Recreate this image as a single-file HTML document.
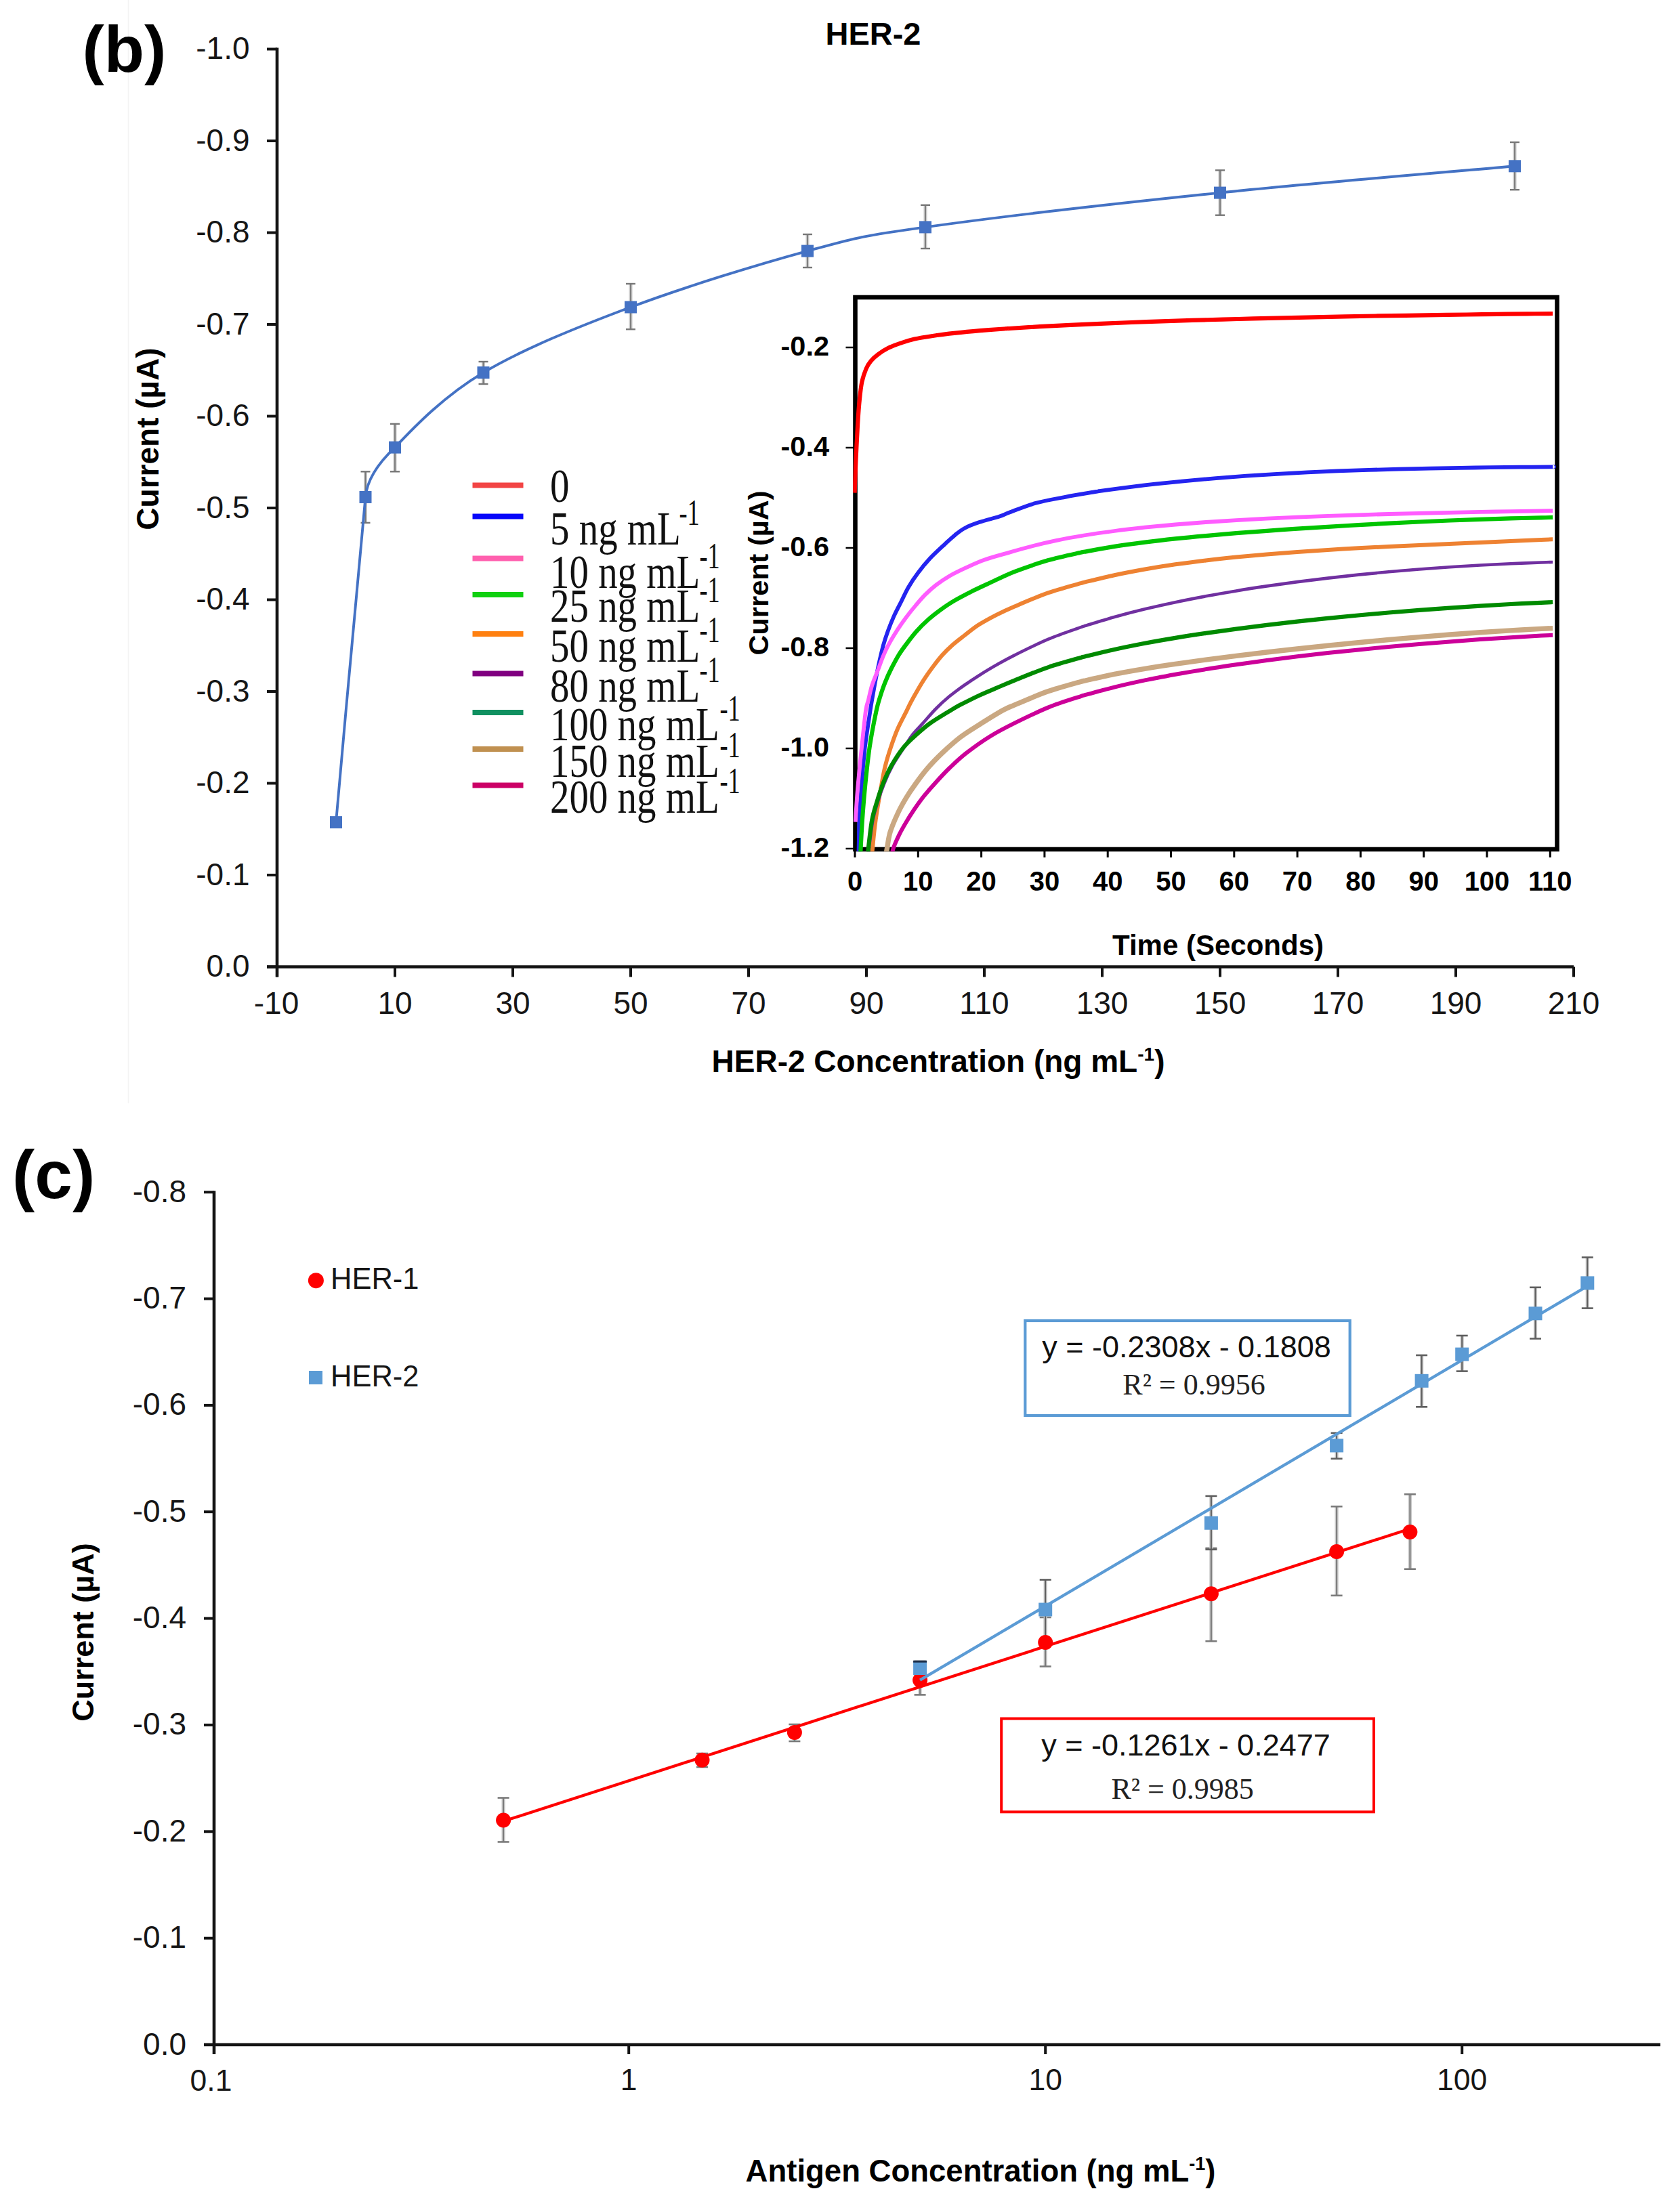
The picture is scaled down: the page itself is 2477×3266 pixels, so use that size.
<!DOCTYPE html>
<html lang="en"><head><meta charset="utf-8"><title>HER-2 calibration</title>
<style>html,body{margin:0;padding:0;background:#fff}svg{display:block}text{white-space:pre}</style></head><body>
<svg width="2477" height="3266" viewBox="0 0 2477 3266">
<rect x="0" y="0" width="2477" height="3266" fill="#ffffff"/>
<line x1="189.5" y1="0" x2="189.5" y2="1629" stroke="#f3f3f3" stroke-width="1.5"/>
<text x="121.5" y="105.5" font-size="97" font-family='"Liberation Sans", Arial, Helvetica, sans-serif' font-weight="bold" text-anchor="start" fill="#000">(b)</text>
<text x="1289" y="65.5" font-size="47" font-family='"Liberation Sans", Arial, Helvetica, sans-serif' font-weight="bold" text-anchor="middle" fill="#000">HER-2</text>
<line x1="409" y1="70.5" x2="409" y2="1442.5" stroke="#141414" stroke-width="4.6" stroke-linecap="butt"/>
<line x1="394" y1="1427.5" x2="2323" y2="1427.5" stroke="#141414" stroke-width="4.6" stroke-linecap="butt"/>
<line x1="394" y1="1427.5" x2="409" y2="1427.5" stroke="#141414" stroke-width="4" stroke-linecap="butt"/>
<text x="368.5" y="1442" font-size="46" font-family='"Liberation Sans", Arial, Helvetica, sans-serif' font-weight="normal" text-anchor="end" fill="#161616">0.0</text>
<line x1="394" y1="1292" x2="409" y2="1292" stroke="#141414" stroke-width="4" stroke-linecap="butt"/>
<text x="368.5" y="1306.5" font-size="46" font-family='"Liberation Sans", Arial, Helvetica, sans-serif' font-weight="normal" text-anchor="end" fill="#161616">-0.1</text>
<line x1="394" y1="1156.5" x2="409" y2="1156.5" stroke="#141414" stroke-width="4" stroke-linecap="butt"/>
<text x="368.5" y="1171" font-size="46" font-family='"Liberation Sans", Arial, Helvetica, sans-serif' font-weight="normal" text-anchor="end" fill="#161616">-0.2</text>
<line x1="394" y1="1021" x2="409" y2="1021" stroke="#141414" stroke-width="4" stroke-linecap="butt"/>
<text x="368.5" y="1035.5" font-size="46" font-family='"Liberation Sans", Arial, Helvetica, sans-serif' font-weight="normal" text-anchor="end" fill="#161616">-0.3</text>
<line x1="394" y1="885.5" x2="409" y2="885.5" stroke="#141414" stroke-width="4" stroke-linecap="butt"/>
<text x="368.5" y="900" font-size="46" font-family='"Liberation Sans", Arial, Helvetica, sans-serif' font-weight="normal" text-anchor="end" fill="#161616">-0.4</text>
<line x1="394" y1="750" x2="409" y2="750" stroke="#141414" stroke-width="4" stroke-linecap="butt"/>
<text x="368.5" y="764.5" font-size="46" font-family='"Liberation Sans", Arial, Helvetica, sans-serif' font-weight="normal" text-anchor="end" fill="#161616">-0.5</text>
<line x1="394" y1="614.5" x2="409" y2="614.5" stroke="#141414" stroke-width="4" stroke-linecap="butt"/>
<text x="368.5" y="629" font-size="46" font-family='"Liberation Sans", Arial, Helvetica, sans-serif' font-weight="normal" text-anchor="end" fill="#161616">-0.6</text>
<line x1="394" y1="479" x2="409" y2="479" stroke="#141414" stroke-width="4" stroke-linecap="butt"/>
<text x="368.5" y="493.5" font-size="46" font-family='"Liberation Sans", Arial, Helvetica, sans-serif' font-weight="normal" text-anchor="end" fill="#161616">-0.7</text>
<line x1="394" y1="343.5" x2="409" y2="343.5" stroke="#141414" stroke-width="4" stroke-linecap="butt"/>
<text x="368.5" y="358" font-size="46" font-family='"Liberation Sans", Arial, Helvetica, sans-serif' font-weight="normal" text-anchor="end" fill="#161616">-0.8</text>
<line x1="394" y1="208" x2="409" y2="208" stroke="#141414" stroke-width="4" stroke-linecap="butt"/>
<text x="368.5" y="222.5" font-size="46" font-family='"Liberation Sans", Arial, Helvetica, sans-serif' font-weight="normal" text-anchor="end" fill="#161616">-0.9</text>
<line x1="394" y1="72.5" x2="409" y2="72.5" stroke="#141414" stroke-width="4" stroke-linecap="butt"/>
<text x="368.5" y="87" font-size="46" font-family='"Liberation Sans", Arial, Helvetica, sans-serif' font-weight="normal" text-anchor="end" fill="#161616">-1.0</text>
<line x1="409" y1="1427.5" x2="409" y2="1442.5" stroke="#141414" stroke-width="4" stroke-linecap="butt"/>
<text x="408" y="1496.5" font-size="46" font-family='"Liberation Sans", Arial, Helvetica, sans-serif' font-weight="normal" text-anchor="middle" fill="#161616">-10</text>
<line x1="583" y1="1427.5" x2="583" y2="1442.5" stroke="#141414" stroke-width="4" stroke-linecap="butt"/>
<text x="583" y="1496.5" font-size="46" font-family='"Liberation Sans", Arial, Helvetica, sans-serif' font-weight="normal" text-anchor="middle" fill="#161616">10</text>
<line x1="757" y1="1427.5" x2="757" y2="1442.5" stroke="#141414" stroke-width="4" stroke-linecap="butt"/>
<text x="757" y="1496.5" font-size="46" font-family='"Liberation Sans", Arial, Helvetica, sans-serif' font-weight="normal" text-anchor="middle" fill="#161616">30</text>
<line x1="931" y1="1427.5" x2="931" y2="1442.5" stroke="#141414" stroke-width="4" stroke-linecap="butt"/>
<text x="931" y="1496.5" font-size="46" font-family='"Liberation Sans", Arial, Helvetica, sans-serif' font-weight="normal" text-anchor="middle" fill="#161616">50</text>
<line x1="1105" y1="1427.5" x2="1105" y2="1442.5" stroke="#141414" stroke-width="4" stroke-linecap="butt"/>
<text x="1105" y="1496.5" font-size="46" font-family='"Liberation Sans", Arial, Helvetica, sans-serif' font-weight="normal" text-anchor="middle" fill="#161616">70</text>
<line x1="1279" y1="1427.5" x2="1279" y2="1442.5" stroke="#141414" stroke-width="4" stroke-linecap="butt"/>
<text x="1279" y="1496.5" font-size="46" font-family='"Liberation Sans", Arial, Helvetica, sans-serif' font-weight="normal" text-anchor="middle" fill="#161616">90</text>
<line x1="1453" y1="1427.5" x2="1453" y2="1442.5" stroke="#141414" stroke-width="4" stroke-linecap="butt"/>
<text x="1453" y="1496.5" font-size="46" font-family='"Liberation Sans", Arial, Helvetica, sans-serif' font-weight="normal" text-anchor="middle" fill="#161616">110</text>
<line x1="1627" y1="1427.5" x2="1627" y2="1442.5" stroke="#141414" stroke-width="4" stroke-linecap="butt"/>
<text x="1627" y="1496.5" font-size="46" font-family='"Liberation Sans", Arial, Helvetica, sans-serif' font-weight="normal" text-anchor="middle" fill="#161616">130</text>
<line x1="1801" y1="1427.5" x2="1801" y2="1442.5" stroke="#141414" stroke-width="4" stroke-linecap="butt"/>
<text x="1801" y="1496.5" font-size="46" font-family='"Liberation Sans", Arial, Helvetica, sans-serif' font-weight="normal" text-anchor="middle" fill="#161616">150</text>
<line x1="1975" y1="1427.5" x2="1975" y2="1442.5" stroke="#141414" stroke-width="4" stroke-linecap="butt"/>
<text x="1975" y="1496.5" font-size="46" font-family='"Liberation Sans", Arial, Helvetica, sans-serif' font-weight="normal" text-anchor="middle" fill="#161616">170</text>
<line x1="2149" y1="1427.5" x2="2149" y2="1442.5" stroke="#141414" stroke-width="4" stroke-linecap="butt"/>
<text x="2149" y="1496.5" font-size="46" font-family='"Liberation Sans", Arial, Helvetica, sans-serif' font-weight="normal" text-anchor="middle" fill="#161616">190</text>
<line x1="2323" y1="1427.5" x2="2323" y2="1442.5" stroke="#141414" stroke-width="4" stroke-linecap="butt"/>
<text x="2323" y="1496.5" font-size="46" font-family='"Liberation Sans", Arial, Helvetica, sans-serif' font-weight="normal" text-anchor="middle" fill="#161616">210</text>
<text transform="translate(234 648) rotate(-90)" font-size="46" font-family='"Liberation Sans", Arial, Helvetica, sans-serif' font-weight="bold" text-anchor="middle" fill="#000">Current (µA)</text>
<text x="1385" y="1583" font-size="46" font-family='"Liberation Sans", Arial, Helvetica, sans-serif' font-weight="bold" text-anchor="middle" fill="#000">HER-2 Concentration (ng mL<tspan font-size="28" dy="-17">-1</tspan><tspan dy="17">)</tspan></text>
<line x1="539.5" y1="696.3" x2="539.5" y2="771.9" stroke="#c9c9c9" stroke-width="5" stroke-linecap="butt"/>
<line x1="539.5" y1="696.3" x2="539.5" y2="771.9" stroke="#777777" stroke-width="1.8" stroke-linecap="butt"/>
<line x1="532.5" y1="696.3" x2="546.5" y2="696.3" stroke="#777777" stroke-width="2.4" stroke-linecap="butt"/>
<line x1="532.5" y1="771.9" x2="546.5" y2="771.9" stroke="#777777" stroke-width="2.4" stroke-linecap="butt"/>
<line x1="583" y1="625.9" x2="583" y2="696.3" stroke="#c9c9c9" stroke-width="5" stroke-linecap="butt"/>
<line x1="583" y1="625.9" x2="583" y2="696.3" stroke="#777777" stroke-width="1.8" stroke-linecap="butt"/>
<line x1="576" y1="625.9" x2="590" y2="625.9" stroke="#777777" stroke-width="2.4" stroke-linecap="butt"/>
<line x1="576" y1="696.3" x2="590" y2="696.3" stroke="#777777" stroke-width="2.4" stroke-linecap="butt"/>
<line x1="713.5" y1="534" x2="713.5" y2="567" stroke="#c9c9c9" stroke-width="5" stroke-linecap="butt"/>
<line x1="713.5" y1="534" x2="713.5" y2="567" stroke="#777777" stroke-width="1.8" stroke-linecap="butt"/>
<line x1="706.5" y1="534" x2="720.5" y2="534" stroke="#777777" stroke-width="2.4" stroke-linecap="butt"/>
<line x1="706.5" y1="567" x2="720.5" y2="567" stroke="#777777" stroke-width="2.4" stroke-linecap="butt"/>
<line x1="931" y1="419" x2="931" y2="486.2" stroke="#c9c9c9" stroke-width="5" stroke-linecap="butt"/>
<line x1="931" y1="419" x2="931" y2="486.2" stroke="#777777" stroke-width="1.8" stroke-linecap="butt"/>
<line x1="924" y1="419" x2="938" y2="419" stroke="#777777" stroke-width="2.4" stroke-linecap="butt"/>
<line x1="924" y1="486.2" x2="938" y2="486.2" stroke="#777777" stroke-width="2.4" stroke-linecap="butt"/>
<line x1="1192" y1="346" x2="1192" y2="395" stroke="#c9c9c9" stroke-width="5" stroke-linecap="butt"/>
<line x1="1192" y1="346" x2="1192" y2="395" stroke="#777777" stroke-width="1.8" stroke-linecap="butt"/>
<line x1="1185" y1="346" x2="1199" y2="346" stroke="#777777" stroke-width="2.4" stroke-linecap="butt"/>
<line x1="1185" y1="395" x2="1199" y2="395" stroke="#777777" stroke-width="2.4" stroke-linecap="butt"/>
<line x1="1366" y1="302.8" x2="1366" y2="367" stroke="#c9c9c9" stroke-width="5" stroke-linecap="butt"/>
<line x1="1366" y1="302.8" x2="1366" y2="367" stroke="#777777" stroke-width="1.8" stroke-linecap="butt"/>
<line x1="1359" y1="302.8" x2="1373" y2="302.8" stroke="#777777" stroke-width="2.4" stroke-linecap="butt"/>
<line x1="1359" y1="367" x2="1373" y2="367" stroke="#777777" stroke-width="2.4" stroke-linecap="butt"/>
<line x1="1801" y1="251.4" x2="1801" y2="317.7" stroke="#c9c9c9" stroke-width="5" stroke-linecap="butt"/>
<line x1="1801" y1="251.4" x2="1801" y2="317.7" stroke="#777777" stroke-width="1.8" stroke-linecap="butt"/>
<line x1="1794" y1="251.4" x2="1808" y2="251.4" stroke="#777777" stroke-width="2.4" stroke-linecap="butt"/>
<line x1="1794" y1="317.7" x2="1808" y2="317.7" stroke="#777777" stroke-width="2.4" stroke-linecap="butt"/>
<line x1="2236" y1="210" x2="2236" y2="280.2" stroke="#c9c9c9" stroke-width="5" stroke-linecap="butt"/>
<line x1="2236" y1="210" x2="2236" y2="280.2" stroke="#777777" stroke-width="1.8" stroke-linecap="butt"/>
<line x1="2229" y1="210" x2="2243" y2="210" stroke="#777777" stroke-width="2.4" stroke-linecap="butt"/>
<line x1="2229" y1="280.2" x2="2243" y2="280.2" stroke="#777777" stroke-width="2.4" stroke-linecap="butt"/>
<path d="M496 1214.1C510 1054 526 880 539.5 734C541.5 711 556 686 583 660.6C612 629.9 655.5 584.6 713.5 550.1C771.5 515.6 851.2 483.4 931 453.5C1010.8 423.6 1119.5 390.3 1192 370.6C1264.5 350.9 1264.5 349.7 1366 335.4C1467.5 321 1656 299.6 1801 284.6C1946 269.5 2163.5 251.8 2236 245.3" fill="none" stroke="#4472c4" stroke-width="3.9" stroke-linejoin="round"/>
<rect x="487" y="1205.1" width="18" height="18" fill="#4472c4"/>
<rect x="530.5" y="725" width="18" height="18" fill="#4472c4"/>
<rect x="574" y="651.6" width="18" height="18" fill="#4472c4"/>
<rect x="704.5" y="541.1" width="18" height="18" fill="#4472c4"/>
<rect x="922" y="444.5" width="18" height="18" fill="#4472c4"/>
<rect x="1183" y="361.6" width="18" height="18" fill="#4472c4"/>
<rect x="1357" y="326.4" width="18" height="18" fill="#4472c4"/>
<rect x="1792" y="275.6" width="18" height="18" fill="#4472c4"/>
<rect x="2227" y="236.3" width="18" height="18" fill="#4472c4"/>
<rect x="1262.5" y="439" width="1036" height="815" fill="#ffffff" stroke="#000" stroke-width="6.6"/>
<line x1="1262" y1="1254" x2="1262" y2="1266" stroke="#000" stroke-width="3" stroke-linecap="butt"/>
<line x1="1355.3" y1="1254" x2="1355.3" y2="1266" stroke="#000" stroke-width="3" stroke-linecap="butt"/>
<line x1="1448.6" y1="1254" x2="1448.6" y2="1266" stroke="#000" stroke-width="3" stroke-linecap="butt"/>
<line x1="1541.9" y1="1254" x2="1541.9" y2="1266" stroke="#000" stroke-width="3" stroke-linecap="butt"/>
<line x1="1635.2" y1="1254" x2="1635.2" y2="1266" stroke="#000" stroke-width="3" stroke-linecap="butt"/>
<line x1="1728.5" y1="1254" x2="1728.5" y2="1266" stroke="#000" stroke-width="3" stroke-linecap="butt"/>
<line x1="1821.8" y1="1254" x2="1821.8" y2="1266" stroke="#000" stroke-width="3" stroke-linecap="butt"/>
<line x1="1915.1" y1="1254" x2="1915.1" y2="1266" stroke="#000" stroke-width="3" stroke-linecap="butt"/>
<line x1="2008.4" y1="1254" x2="2008.4" y2="1266" stroke="#000" stroke-width="3" stroke-linecap="butt"/>
<line x1="2101.7" y1="1254" x2="2101.7" y2="1266" stroke="#000" stroke-width="3" stroke-linecap="butt"/>
<line x1="2195" y1="1254" x2="2195" y2="1266" stroke="#000" stroke-width="3" stroke-linecap="butt"/>
<line x1="2288.3" y1="1254" x2="2288.3" y2="1266" stroke="#000" stroke-width="3" stroke-linecap="butt"/>
<line x1="1248.5" y1="513" x2="1262.5" y2="513" stroke="#000" stroke-width="2.5" stroke-linecap="butt"/>
<text x="1224" y="524.5" font-size="41.5" font-family='"Liberation Sans", Arial, Helvetica, sans-serif' font-weight="bold" text-anchor="end" fill="#000">-0.2</text>
<line x1="1248.5" y1="661" x2="1262.5" y2="661" stroke="#000" stroke-width="2.5" stroke-linecap="butt"/>
<text x="1224" y="672.5" font-size="41.5" font-family='"Liberation Sans", Arial, Helvetica, sans-serif' font-weight="bold" text-anchor="end" fill="#000">-0.4</text>
<line x1="1248.5" y1="809" x2="1262.5" y2="809" stroke="#000" stroke-width="2.5" stroke-linecap="butt"/>
<text x="1224" y="820.5" font-size="41.5" font-family='"Liberation Sans", Arial, Helvetica, sans-serif' font-weight="bold" text-anchor="end" fill="#000">-0.6</text>
<line x1="1248.5" y1="957" x2="1262.5" y2="957" stroke="#000" stroke-width="2.5" stroke-linecap="butt"/>
<text x="1224" y="968.5" font-size="41.5" font-family='"Liberation Sans", Arial, Helvetica, sans-serif' font-weight="bold" text-anchor="end" fill="#000">-0.8</text>
<line x1="1248.5" y1="1105" x2="1262.5" y2="1105" stroke="#000" stroke-width="2.5" stroke-linecap="butt"/>
<text x="1224" y="1116.5" font-size="41.5" font-family='"Liberation Sans", Arial, Helvetica, sans-serif' font-weight="bold" text-anchor="end" fill="#000">-1.0</text>
<line x1="1248.5" y1="1253" x2="1262.5" y2="1253" stroke="#000" stroke-width="2.5" stroke-linecap="butt"/>
<text x="1224" y="1264.5" font-size="41.5" font-family='"Liberation Sans", Arial, Helvetica, sans-serif' font-weight="bold" text-anchor="end" fill="#000">-1.2</text>
<text x="1262" y="1315" font-size="40" font-family='"Liberation Sans", Arial, Helvetica, sans-serif' font-weight="bold" text-anchor="middle" fill="#000">0</text>
<text x="1355.3" y="1315" font-size="40" font-family='"Liberation Sans", Arial, Helvetica, sans-serif' font-weight="bold" text-anchor="middle" fill="#000">10</text>
<text x="1448.6" y="1315" font-size="40" font-family='"Liberation Sans", Arial, Helvetica, sans-serif' font-weight="bold" text-anchor="middle" fill="#000">20</text>
<text x="1541.9" y="1315" font-size="40" font-family='"Liberation Sans", Arial, Helvetica, sans-serif' font-weight="bold" text-anchor="middle" fill="#000">30</text>
<text x="1635.2" y="1315" font-size="40" font-family='"Liberation Sans", Arial, Helvetica, sans-serif' font-weight="bold" text-anchor="middle" fill="#000">40</text>
<text x="1728.5" y="1315" font-size="40" font-family='"Liberation Sans", Arial, Helvetica, sans-serif' font-weight="bold" text-anchor="middle" fill="#000">50</text>
<text x="1821.8" y="1315" font-size="40" font-family='"Liberation Sans", Arial, Helvetica, sans-serif' font-weight="bold" text-anchor="middle" fill="#000">60</text>
<text x="1915.1" y="1315" font-size="40" font-family='"Liberation Sans", Arial, Helvetica, sans-serif' font-weight="bold" text-anchor="middle" fill="#000">70</text>
<text x="2008.4" y="1315" font-size="40" font-family='"Liberation Sans", Arial, Helvetica, sans-serif' font-weight="bold" text-anchor="middle" fill="#000">80</text>
<text x="2101.7" y="1315" font-size="40" font-family='"Liberation Sans", Arial, Helvetica, sans-serif' font-weight="bold" text-anchor="middle" fill="#000">90</text>
<text x="2195" y="1315" font-size="40" font-family='"Liberation Sans", Arial, Helvetica, sans-serif' font-weight="bold" text-anchor="middle" fill="#000">100</text>
<text x="2288.3" y="1315" font-size="40" font-family='"Liberation Sans", Arial, Helvetica, sans-serif' font-weight="bold" text-anchor="middle" fill="#000">110</text>
<text x="1798" y="1409.5" font-size="42" font-family='"Liberation Sans", Arial, Helvetica, sans-serif' font-weight="bold" text-anchor="middle" fill="#000">Time (Seconds)</text>
<text transform="translate(1133.5 846) rotate(-90)" font-size="41.5" font-family='"Liberation Sans", Arial, Helvetica, sans-serif' font-weight="bold" text-anchor="middle" fill="#000">Current (µA)</text>
<clipPath id="ic"><rect x="1259.2" y="442.3" width="1039.3" height="815"/></clipPath>
<g clip-path="url(#ic)" fill="none" stroke-linejoin="round">
<path d="M1261.6 727.7C1261.9 719.8 1262.7 697.1 1263.4 680.3C1264.2 663.5 1265.2 641.6 1266.1 626.7C1267 611.8 1267.7 601.3 1268.8 590.9C1269.8 580.5 1270.7 571.8 1272.3 564.1C1274 556.3 1276.4 549.6 1278.6 544.4C1280.8 539.2 1282.8 536.4 1285.8 532.8C1288.7 529.2 1292.3 526.1 1296.5 523C1300.7 519.8 1305.4 516.7 1310.8 514C1316.2 511.4 1322.1 509.1 1328.7 506.9C1335.2 504.6 1342.4 502.4 1350.1 500.6C1357.9 498.8 1365 497.7 1375.2 496.2C1385.3 494.7 1399 493 1410.9 491.7C1422.8 490.3 1434.8 489.2 1446.7 488.2C1458.6 487.2 1475.2 486 1482.4 485.5C1489.7 485 1481.2 485.5 1490 485C1498.8 484.4 1520 483.1 1535 482.2C1550 481.4 1565 480.6 1580 479.9C1595 479.2 1610 478.5 1625 477.8C1640 477.2 1655 476.6 1670 476C1685 475.5 1700 474.9 1715 474.4C1730 473.9 1745 473.4 1760 472.9C1775 472.5 1790 472 1805 471.6C1820 471.2 1835 470.8 1850 470.4C1865 470 1880 469.6 1895 469.3C1910 468.9 1925 468.6 1940 468.3C1955 467.9 1970 467.6 1985 467.3C2000 467.1 2015 466.8 2030 466.5C2045 466.3 2060 466 2075 465.8C2090 465.5 2105 465.3 2120 465.1C2135 464.9 2150 464.6 2165 464.5C2180 464.3 2195 464.1 2210 463.9C2225 463.7 2241.3 463.5 2255 463.4C2268.7 463.2 2285.9 463.1 2292.1 463" stroke="#ff0000" stroke-width="6.2"/>
<path d="M1267.5 1257.4C1267.6 1254.1 1267.8 1245.5 1267.9 1237.7C1268.1 1230 1267.8 1224.3 1268.4 1210.9C1269.1 1197.5 1270.6 1175.2 1272 1157.3C1273.4 1139.4 1274.8 1121.5 1276.8 1103.6C1278.9 1085.7 1282.8 1061.6 1284.5 1049.9C1286.3 1038.3 1286 1040.7 1287.2 1033.5C1288.5 1026.3 1290.3 1015.6 1292 1006.7C1293.7 997.7 1295.4 988.8 1297.4 979.9C1299.4 970.9 1301.6 961.1 1303.8 953C1306.1 945 1308.2 938.7 1310.8 931.6C1313.4 924.4 1316.2 917.3 1319.4 910.1C1322.6 903 1326.5 895.8 1330.1 888.7C1333.7 881.5 1336.7 874.4 1340.9 867.2C1345 860.1 1349.8 852.9 1355.2 845.8C1360.5 838.6 1366.4 831.4 1373 824.3C1379.7 817.2 1388.8 809 1394.9 803.3C1401 797.6 1404.8 793.9 1409.8 789.9C1414.8 785.9 1418.7 782.6 1424.7 779.5C1430.7 776.3 1437.1 773.9 1445.6 771.1C1454 768.3 1467.9 764.9 1475.4 762.5C1482.8 760 1481.3 759.8 1490.3 756.5C1499.2 753.2 1515.1 746.6 1529 742.8C1542.9 739 1558.8 736.4 1573.7 733.6C1588.6 730.8 1609.9 727.4 1618.4 725.9C1626.8 724.5 1617.4 725.7 1624.3 724.8C1631.3 723.8 1646.6 721.8 1660 720.1C1673.4 718.4 1690 716.4 1705 714.7C1720 713.1 1735 711.6 1750 710.1C1765 708.7 1780 707.3 1795 706.1C1810 704.9 1825 703.7 1840 702.7C1855 701.6 1870 700.7 1885 699.8C1900 698.9 1915 698.1 1930 697.4C1945 696.7 1960 696 1975 695.4C1990 694.8 2005 694.3 2020 693.9C2035 693.4 2050 693 2065 692.6C2080 692.2 2095 691.9 2110 691.6C2125 691.3 2140 691 2155 690.8C2170 690.6 2185 690.4 2200 690.2C2215 690 2230 689.9 2245 689.7C2260 689.6 2282.2 689.4 2290 689.3C2297.8 689.2 2291.7 689.3 2292.1 689.3" stroke="#2424f0" stroke-width="5.8"/>
<path d="M1262.9 1213.6C1263.1 1210.2 1263.3 1202.4 1264 1193C1264.6 1183.6 1265.3 1172.2 1266.7 1157.3C1268 1142.4 1270.1 1121.5 1272 1103.6C1273.9 1085.7 1276.3 1061.6 1277.9 1049.9C1279.6 1038.3 1280.3 1039.8 1281.9 1033.5C1283.4 1027.2 1284.8 1019.5 1287.2 1012C1289.6 1004.6 1293.2 996.5 1296.2 988.8C1299.1 981 1302.1 972.4 1305.1 965.6C1308.1 958.7 1310.8 953.6 1314 947.7C1317.3 941.7 1320.9 935.8 1324.8 929.8C1328.6 923.8 1332.8 917.9 1337.3 911.9C1341.7 906 1346.8 899.7 1351.6 894C1356.3 888.4 1360.8 883 1365.9 877.9C1370.9 872.9 1376 868.2 1382 863.6C1387.9 859 1394.2 854.7 1401.6 850.4C1409.1 846.1 1418 841.9 1426.7 837.9C1435.3 833.9 1443.1 830.1 1453.5 826.5C1463.9 822.8 1477.3 819.3 1489.3 815.9C1501.2 812.4 1513.4 808.9 1525 806C1536.6 803 1546.3 800.7 1558.8 798.1C1571.3 795.5 1585.6 792.9 1600 790.5C1614.4 788.2 1630 786 1645 784C1660 782 1675 780.3 1690 778.7C1705 777.2 1720 775.8 1735 774.5C1750 773.2 1765 772.1 1780 771C1795 769.9 1810 769 1825 768.1C1840 767.2 1855 766.4 1870 765.7C1885 764.9 1900 764.2 1915 763.6C1930 763 1945 762.4 1960 761.9C1975 761.3 1990 760.8 2005 760.3C2020 759.9 2035 759.4 2050 759C2065 758.6 2080 758.2 2095 757.9C2110 757.5 2125 757.2 2140 756.8C2155 756.5 2170 756.2 2185 755.9C2200 755.6 2215 755.4 2230 755.1C2245 754.8 2264.6 754.5 2275 754.4C2285.4 754.2 2289.3 754.1 2292.1 754.1" stroke="#ff5cff" stroke-width="5.8"/>
<path d="M1270.1 1264.6C1270.1 1262.5 1270.1 1261 1270.6 1252C1271.1 1243.1 1271.8 1226.7 1272.9 1210.9C1274 1195.1 1275.6 1175.2 1277.4 1157.3C1279.2 1139.4 1281 1121.5 1283.6 1103.6C1286.3 1085.7 1290.8 1062.5 1293.5 1049.9C1296.1 1037.4 1297.1 1035.3 1299.4 1028.1C1301.6 1020.9 1304.1 1013.5 1306.9 1006.7C1309.6 999.8 1312.5 993.6 1315.8 987C1319.1 980.5 1322.7 973.6 1326.5 967.3C1330.4 961.1 1334.6 955.4 1339.1 949.5C1343.5 943.5 1348.3 937.2 1353.4 931.6C1358.4 925.9 1363.8 920.6 1369.5 915.5C1375.1 910.4 1380.8 906 1387.3 901.2C1393.9 896.4 1400.7 891.6 1408.8 886.9C1416.8 882.1 1426.7 877.1 1435.6 872.6C1444.6 868.1 1452 864.8 1462.4 860C1472.9 855.3 1484 849.4 1498.2 843.9C1512.4 838.5 1531.5 831.8 1547.7 827.1C1563.9 822.4 1586.6 817.8 1595.4 815.8C1604.1 813.8 1591.7 816.3 1600 814.8C1608.3 813.4 1630 809.2 1645 806.9C1660 804.5 1675 802.5 1690 800.6C1705 798.7 1720 797 1735 795.4C1750 793.8 1765 792.4 1780 791.1C1795 789.7 1810 788.4 1825 787.2C1840 786 1855 784.9 1870 783.8C1885 782.7 1900 781.7 1915 780.6C1930 779.6 1945 778.7 1960 777.8C1975 776.8 1990 776 2005 775.1C2020 774.3 2035 773.5 2050 772.7C2065 771.9 2080 771.2 2095 770.5C2110 769.8 2125 769.2 2140 768.5C2155 767.9 2170 767.4 2185 766.9C2200 766.3 2215 765.9 2230 765.4C2245 765 2264.6 764.5 2275 764.3C2285.4 764 2289.3 764 2292.1 763.9" stroke="#00c400" stroke-width="6.2"/>
<path d="M1287.2 1264.6C1287.4 1262.5 1287.2 1261 1288.1 1252C1289 1243.1 1290.3 1226.7 1292.6 1210.9C1294.8 1195.1 1299.1 1170.7 1301.5 1157.3C1303.9 1143.9 1304.6 1139.4 1306.9 1130.5C1309.1 1121.5 1311.9 1112.6 1314.9 1103.6C1317.9 1094.7 1320.9 1085.8 1324.8 1076.8C1328.6 1067.9 1334.9 1056.6 1338.2 1049.9C1341.4 1043.3 1341.9 1041.9 1344.4 1037.1C1347 1032.2 1350.1 1026.6 1353.4 1021C1356.6 1015.3 1360.2 1009.1 1364.1 1003.1C1368 997.1 1372.1 991.2 1376.6 985.2C1381.1 979.3 1386 972.8 1390.9 967.3C1395.8 961.9 1400.6 957.2 1406.1 952.3C1411.6 947.4 1417.6 943 1424 938C1430.4 933.1 1436.7 927.7 1444.6 922.6C1452.5 917.6 1462.4 912.2 1471.4 907.6C1480.3 903.1 1485.5 900.6 1498.2 895.2C1510.9 889.8 1531.5 880.9 1547.7 875.2C1563.9 869.5 1586.6 863.7 1595.4 861.2C1604.1 858.6 1591.7 861.9 1600 859.9C1608.3 857.9 1630 852.5 1645 849.2C1660 846 1675 843.2 1690 840.5C1705 837.9 1720 835.5 1735 833.3C1750 831.2 1765 829.2 1780 827.4C1795 825.6 1810 824 1825 822.5C1840 821 1855 819.7 1870 818.4C1885 817.1 1900 816 1915 814.9C1930 813.9 1945 812.9 1960 811.9C1975 811 1990 810.2 2005 809.3C2020 808.5 2035 807.7 2050 807C2065 806.3 2080 805.6 2095 804.9C2110 804.2 2125 803.5 2140 802.9C2155 802.2 2170 801.6 2185 800.9C2200 800.3 2215 799.6 2230 799C2245 798.3 2264.6 797.5 2275 797C2285.4 796.6 2289.3 796.4 2292.1 796.3" stroke="#ee8232" stroke-width="6"/>
<path d="M1282.2 1264.6C1282.3 1262.5 1281.9 1261 1282.9 1252C1284 1243.1 1286.5 1222.2 1288.6 1210.9C1290.8 1199.6 1293.1 1193 1295.8 1184.1C1298.5 1175.2 1301.5 1166.2 1305.1 1157.3C1308.7 1148.3 1312.7 1139.4 1317.6 1130.5C1322.5 1121.5 1329.8 1111.1 1334.6 1103.6C1339.4 1096.2 1341.6 1091.7 1346.2 1085.8C1350.8 1079.8 1356.3 1074.5 1362.3 1067.9C1368.3 1061.3 1375.4 1052.6 1382 1046C1388.5 1039.4 1394.8 1033.8 1401.6 1028.1C1408.5 1022.5 1415.9 1017.1 1423.1 1012C1430.3 1007 1436.5 1002.8 1444.6 997.7C1452.6 992.7 1462.4 986.7 1471.4 981.6C1480.3 976.5 1485.5 973.4 1498.2 967.1C1510.9 960.8 1531.5 950.5 1547.7 943.7C1563.9 936.9 1586.6 929.4 1595.4 926.2C1604.1 923 1591.7 927.2 1600 924.6C1608.3 922.1 1630 915.2 1645 911C1660 906.8 1675 902.9 1690 899.3C1705 895.7 1720 892.4 1735 889.2C1750 886 1765 883.1 1780 880.3C1795 877.5 1810 874.9 1825 872.4C1840 869.9 1855 867.6 1870 865.4C1885 863.2 1900 861.1 1915 859.1C1930 857.2 1945 855.3 1960 853.6C1975 851.8 1990 850.2 2005 848.6C2020 847.1 2035 845.6 2050 844.3C2065 842.9 2080 841.7 2095 840.5C2110 839.3 2125 838.2 2140 837.2C2155 836.2 2170 835.3 2185 834.5C2200 833.7 2215 832.9 2230 832.2C2245 831.6 2264.6 830.9 2275 830.5C2285.4 830.1 2289.3 830 2292.1 830" stroke="#7030a0" stroke-width="4.6"/>
<path d="M1281.1 1264.6C1281.3 1262.5 1280.8 1261 1281.9 1252C1282.9 1243.1 1285.1 1222.2 1287.2 1210.9C1289.3 1199.6 1291.7 1193 1294.4 1184.1C1297 1175.2 1299.7 1166.2 1303.3 1157.3C1306.9 1148.3 1310.8 1139.4 1315.8 1130.5C1320.9 1121.5 1327.7 1111.1 1333.7 1103.6C1339.7 1096.2 1345 1091.7 1351.6 1085.8C1358.1 1079.8 1364.7 1073.8 1373 1067.9C1381.4 1061.9 1394.2 1054.5 1401.6 1049.9C1409.1 1045.4 1410.6 1044.4 1417.7 1040.6C1424.9 1036.9 1435.6 1031.4 1444.6 1027.2C1453.5 1023.1 1462.4 1019.4 1471.4 1015.6C1480.3 1011.8 1485.5 1009.5 1498.2 1004.4C1510.9 999.3 1531.5 990.6 1547.7 985.1C1563.9 979.5 1586.6 973.5 1595.4 971C1604.1 968.4 1591.7 971.7 1600 969.7C1608.3 967.7 1630 962.3 1645 959C1660 955.7 1675 952.7 1690 949.8C1705 947 1720 944.4 1735 941.9C1750 939.4 1765 937.1 1780 934.9C1795 932.7 1810 930.6 1825 928.6C1840 926.6 1855 924.7 1870 922.9C1885 921.1 1900 919.3 1915 917.7C1930 916 1945 914.4 1960 912.9C1975 911.3 1990 909.9 2005 908.5C2020 907.1 2035 905.8 2050 904.5C2065 903.2 2080 902 2095 900.8C2110 899.7 2125 898.6 2140 897.6C2155 896.5 2170 895.5 2185 894.6C2200 893.7 2215 892.8 2230 892C2245 891.2 2264.6 890.3 2275 889.8C2285.4 889.3 2289.3 889.2 2292.1 889" stroke="#008a00" stroke-width="6.2"/>
<path d="M1307.6 1264.6C1307.9 1262.5 1308.5 1258 1309.6 1252C1310.6 1246.1 1311.5 1237.1 1314 1228.8C1316.6 1220.5 1320.9 1210.3 1324.8 1202C1328.6 1193.6 1332.8 1186.2 1337.3 1178.7C1341.7 1171.3 1346.2 1164.7 1351.6 1157.3C1356.9 1149.8 1362.9 1141.6 1369.5 1134C1376 1126.4 1382.9 1119.3 1390.9 1111.7C1399 1104.1 1408.8 1095.3 1417.7 1088.4C1426.7 1081.6 1434.1 1077.2 1444.6 1070.6C1455 1064 1471.4 1053.8 1480.3 1048.8C1489.3 1043.8 1487 1045.3 1498.2 1040.6C1509.4 1035.9 1531.5 1026.2 1547.7 1020.6C1563.9 1014.9 1586.6 1009.1 1595.4 1006.5C1604.1 1004 1591.7 1007.2 1600 1005.4C1608.3 1003.5 1630 998.4 1645 995.4C1660 992.4 1675 989.8 1690 987.3C1705 984.8 1720 982.5 1735 980.3C1750 978.1 1765 976.1 1780 974.1C1795 972.1 1810 970.2 1825 968.4C1840 966.5 1855 964.7 1870 963C1885 961.3 1900 959.6 1915 958C1930 956.3 1945 954.7 1960 953.2C1975 951.7 1990 950.2 2005 948.7C2020 947.2 2035 945.8 2050 944.5C2065 943.1 2080 941.8 2095 940.6C2110 939.3 2125 938.1 2140 937C2155 935.8 2170 934.7 2185 933.7C2200 932.7 2215 931.7 2230 930.9C2245 930 2264.6 928.9 2275 928.4C2285.4 927.9 2289.3 927.7 2292.1 927.6" stroke="#caa882" stroke-width="7.4"/>
<path d="M1316.2 1264.6C1316.6 1262.5 1317 1257.4 1318.9 1252C1320.7 1246.7 1324.4 1238.6 1327.4 1232.4C1330.5 1226.1 1333.6 1220.7 1337.3 1214.5C1341 1208.2 1345.3 1201.4 1349.8 1194.8C1354.3 1188.3 1358.7 1181.9 1364.1 1175.2C1369.5 1168.5 1375.7 1161.4 1382 1154.6C1388.2 1147.7 1394.2 1141.2 1401.6 1134C1409.1 1126.9 1416.5 1119.6 1426.7 1111.7C1436.8 1103.8 1450.5 1094 1462.4 1086.7C1474.4 1079.3 1484 1074.5 1498.2 1067.4C1512.4 1060.4 1531.5 1051 1547.7 1044.4C1563.9 1037.8 1586.6 1031 1595.4 1028.1C1604.1 1025.1 1591.7 1028.9 1600 1026.7C1608.3 1024.4 1630 1018.3 1645 1014.6C1660 1010.9 1675 1007.6 1690 1004.4C1705 1001.3 1720 998.5 1735 995.7C1750 993 1765 990.5 1780 988.1C1795 985.6 1810 983.4 1825 981.2C1840 979 1855 977 1870 975C1885 973 1900 971.1 1915 969.3C1930 967.5 1945 965.8 1960 964.1C1975 962.5 1990 960.9 2005 959.4C2020 957.8 2035 956.4 2050 955C2065 953.6 2080 952.3 2095 951C2110 949.7 2125 948.5 2140 947.4C2155 946.2 2170 945.1 2185 944.1C2200 943.1 2215 942.1 2230 941.2C2245 940.3 2264.6 939.2 2275 938.6C2285.4 938.1 2289.3 937.9 2292.1 937.7" stroke="#cc0099" stroke-width="6"/>
</g>
<line x1="697.5" y1="716.5" x2="772.5" y2="716.5" stroke="#f24444" stroke-width="8" stroke-linecap="butt"/>
<text transform="translate(812 740.5) scale(0.825 1)" font-size="69" font-family='"Liberation Serif", "Times New Roman", Times, serif' fill="#111">0</text>
<line x1="697.5" y1="762.5" x2="772.5" y2="762.5" stroke="#0606fa" stroke-width="8" stroke-linecap="butt"/>
<text transform="translate(812 803.5) scale(0.825 1)" font-size="69" font-family='"Liberation Serif", "Times New Roman", Times, serif' fill="#111">5 ng mL</text>
<text transform="translate(1002.5 774.5) scale(0.66 1)" font-size="55" font-family='"Liberation Serif", "Times New Roman", Times, serif' fill="#111">-1</text>
<line x1="697.5" y1="824.5" x2="772.5" y2="824.5" stroke="#ff60ae" stroke-width="8" stroke-linecap="butt"/>
<text transform="translate(812 867.5) scale(0.825 1)" font-size="69" font-family='"Liberation Serif", "Times New Roman", Times, serif' fill="#111">10 ng mL</text>
<text transform="translate(1032.5 838.5) scale(0.66 1)" font-size="55" font-family='"Liberation Serif", "Times New Roman", Times, serif' fill="#111">-1</text>
<line x1="697.5" y1="878" x2="772.5" y2="878" stroke="#10d010" stroke-width="8" stroke-linecap="butt"/>
<text transform="translate(812 918) scale(0.825 1)" font-size="69" font-family='"Liberation Serif", "Times New Roman", Times, serif' fill="#111">25 ng mL</text>
<text transform="translate(1032.5 889) scale(0.66 1)" font-size="55" font-family='"Liberation Serif", "Times New Roman", Times, serif' fill="#111">-1</text>
<line x1="697.5" y1="936" x2="772.5" y2="936" stroke="#ff8010" stroke-width="8" stroke-linecap="butt"/>
<text transform="translate(812 976.5) scale(0.825 1)" font-size="69" font-family='"Liberation Serif", "Times New Roman", Times, serif' fill="#111">50 ng mL</text>
<text transform="translate(1032.5 947.5) scale(0.66 1)" font-size="55" font-family='"Liberation Serif", "Times New Roman", Times, serif' fill="#111">-1</text>
<line x1="697.5" y1="994.5" x2="772.5" y2="994.5" stroke="#800080" stroke-width="8" stroke-linecap="butt"/>
<text transform="translate(812 1035.5) scale(0.825 1)" font-size="69" font-family='"Liberation Serif", "Times New Roman", Times, serif' fill="#111">80 ng mL</text>
<text transform="translate(1032.5 1006.5) scale(0.66 1)" font-size="55" font-family='"Liberation Serif", "Times New Roman", Times, serif' fill="#111">-1</text>
<line x1="697.5" y1="1052" x2="772.5" y2="1052" stroke="#109060" stroke-width="8" stroke-linecap="butt"/>
<text transform="translate(812 1092.5) scale(0.825 1)" font-size="69" font-family='"Liberation Serif", "Times New Roman", Times, serif' fill="#111">100 ng mL</text>
<text transform="translate(1062.5 1063.5) scale(0.66 1)" font-size="55" font-family='"Liberation Serif", "Times New Roman", Times, serif' fill="#111">-1</text>
<line x1="697.5" y1="1106" x2="772.5" y2="1106" stroke="#c09050" stroke-width="8" stroke-linecap="butt"/>
<text transform="translate(812 1147) scale(0.825 1)" font-size="69" font-family='"Liberation Serif", "Times New Roman", Times, serif' fill="#111">150 ng mL</text>
<text transform="translate(1062.5 1118) scale(0.66 1)" font-size="55" font-family='"Liberation Serif", "Times New Roman", Times, serif' fill="#111">-1</text>
<line x1="697.5" y1="1159.5" x2="772.5" y2="1159.5" stroke="#cc0066" stroke-width="8" stroke-linecap="butt"/>
<text transform="translate(812 1200) scale(0.825 1)" font-size="69" font-family='"Liberation Serif", "Times New Roman", Times, serif' fill="#111">200 ng mL</text>
<text transform="translate(1062.5 1171) scale(0.66 1)" font-size="55" font-family='"Liberation Serif", "Times New Roman", Times, serif' fill="#111">-1</text>
<text x="18" y="1769" font-size="100" font-family='"Liberation Sans", Arial, Helvetica, sans-serif' font-weight="bold" text-anchor="start" fill="#000">(c)</text>
<line x1="316" y1="1758.2" x2="316" y2="3033" stroke="#141414" stroke-width="4.6" stroke-linecap="butt"/>
<line x1="301" y1="3019" x2="2451" y2="3019" stroke="#141414" stroke-width="4.6" stroke-linecap="butt"/>
<line x1="301" y1="3019" x2="316" y2="3019" stroke="#141414" stroke-width="4" stroke-linecap="butt"/>
<text x="275" y="3033.5" font-size="46" font-family='"Liberation Sans", Arial, Helvetica, sans-serif' font-weight="normal" text-anchor="end" fill="#161616">0.0</text>
<line x1="301" y1="2861.7" x2="316" y2="2861.7" stroke="#141414" stroke-width="4" stroke-linecap="butt"/>
<text x="275" y="2876.2" font-size="46" font-family='"Liberation Sans", Arial, Helvetica, sans-serif' font-weight="normal" text-anchor="end" fill="#161616">-0.1</text>
<line x1="301" y1="2704.3" x2="316" y2="2704.3" stroke="#141414" stroke-width="4" stroke-linecap="butt"/>
<text x="275" y="2718.8" font-size="46" font-family='"Liberation Sans", Arial, Helvetica, sans-serif' font-weight="normal" text-anchor="end" fill="#161616">-0.2</text>
<line x1="301" y1="2546.9" x2="316" y2="2546.9" stroke="#141414" stroke-width="4" stroke-linecap="butt"/>
<text x="275" y="2561.4" font-size="46" font-family='"Liberation Sans", Arial, Helvetica, sans-serif' font-weight="normal" text-anchor="end" fill="#161616">-0.3</text>
<line x1="301" y1="2389.6" x2="316" y2="2389.6" stroke="#141414" stroke-width="4" stroke-linecap="butt"/>
<text x="275" y="2404.1" font-size="46" font-family='"Liberation Sans", Arial, Helvetica, sans-serif' font-weight="normal" text-anchor="end" fill="#161616">-0.4</text>
<line x1="301" y1="2232.2" x2="316" y2="2232.2" stroke="#141414" stroke-width="4" stroke-linecap="butt"/>
<text x="275" y="2246.8" font-size="46" font-family='"Liberation Sans", Arial, Helvetica, sans-serif' font-weight="normal" text-anchor="end" fill="#161616">-0.5</text>
<line x1="301" y1="2074.9" x2="316" y2="2074.9" stroke="#141414" stroke-width="4" stroke-linecap="butt"/>
<text x="275" y="2089.4" font-size="46" font-family='"Liberation Sans", Arial, Helvetica, sans-serif' font-weight="normal" text-anchor="end" fill="#161616">-0.6</text>
<line x1="301" y1="1917.6" x2="316" y2="1917.6" stroke="#141414" stroke-width="4" stroke-linecap="butt"/>
<text x="275" y="1932.1" font-size="46" font-family='"Liberation Sans", Arial, Helvetica, sans-serif' font-weight="normal" text-anchor="end" fill="#161616">-0.7</text>
<line x1="301" y1="1760.2" x2="316" y2="1760.2" stroke="#141414" stroke-width="4" stroke-linecap="butt"/>
<text x="275" y="1774.7" font-size="46" font-family='"Liberation Sans", Arial, Helvetica, sans-serif' font-weight="normal" text-anchor="end" fill="#161616">-0.8</text>
<line x1="928.2" y1="3019" x2="928.2" y2="3033" stroke="#141414" stroke-width="4" stroke-linecap="butt"/>
<text x="928.2" y="3086" font-size="44.5" font-family='"Liberation Sans", Arial, Helvetica, sans-serif' font-weight="normal" text-anchor="middle" fill="#161616">1</text>
<line x1="1543.2" y1="3019" x2="1543.2" y2="3033" stroke="#141414" stroke-width="4" stroke-linecap="butt"/>
<text x="1543.2" y="3086" font-size="44.5" font-family='"Liberation Sans", Arial, Helvetica, sans-serif' font-weight="normal" text-anchor="middle" fill="#161616">10</text>
<line x1="2158.2" y1="3019" x2="2158.2" y2="3033" stroke="#141414" stroke-width="4" stroke-linecap="butt"/>
<text x="2158.2" y="3086" font-size="44.5" font-family='"Liberation Sans", Arial, Helvetica, sans-serif' font-weight="normal" text-anchor="middle" fill="#161616">100</text>
<text x="311.5" y="3086.5" font-size="44.5" font-family='"Liberation Sans", Arial, Helvetica, sans-serif' font-weight="normal" text-anchor="middle" fill="#161616">0.1</text>
<text transform="translate(138 2410) rotate(-90)" font-size="45" font-family='"Liberation Sans", Arial, Helvetica, sans-serif' font-weight="bold" text-anchor="middle" fill="#000">Current (µA)</text>
<text x="1447.5" y="3221" font-size="45.5" font-family='"Liberation Sans", Arial, Helvetica, sans-serif' font-weight="bold" text-anchor="middle" fill="#000">Antigen Concentration (ng mL<tspan font-size="27" dy="-17">-1</tspan><tspan dy="17">)</tspan></text>
<circle cx="466.4" cy="1890.7" r="11.5" fill="#ff0000"/>
<text x="488" y="1903" font-size="43.5" font-family='"Liberation Sans", Arial, Helvetica, sans-serif' font-weight="normal" text-anchor="start" fill="#161616">HER-1</text>
<rect x="456" y="2024" width="20" height="20" fill="#5b9bd5"/>
<text x="488" y="2047" font-size="43.5" font-family='"Liberation Sans", Arial, Helvetica, sans-serif' font-weight="normal" text-anchor="start" fill="#161616">HER-2</text>
<line x1="743.1" y1="2654.5" x2="743.1" y2="2719.5" stroke="#c9c9c9" stroke-width="5.2" stroke-linecap="butt"/>
<line x1="743.1" y1="2654.5" x2="743.1" y2="2719.5" stroke="#7a7a7a" stroke-width="2" stroke-linecap="butt"/>
<line x1="734.6" y1="2654.5" x2="751.6" y2="2654.5" stroke="#7a7a7a" stroke-width="2.6" stroke-linecap="butt"/>
<line x1="734.6" y1="2719.5" x2="751.6" y2="2719.5" stroke="#7a7a7a" stroke-width="2.6" stroke-linecap="butt"/>
<line x1="1036.5" y1="2589" x2="1036.5" y2="2609" stroke="#c9c9c9" stroke-width="5.2" stroke-linecap="butt"/>
<line x1="1036.5" y1="2589" x2="1036.5" y2="2609" stroke="#7a7a7a" stroke-width="2" stroke-linecap="butt"/>
<line x1="1028" y1="2589" x2="1045" y2="2589" stroke="#7a7a7a" stroke-width="2.6" stroke-linecap="butt"/>
<line x1="1028" y1="2609" x2="1045" y2="2609" stroke="#7a7a7a" stroke-width="2.6" stroke-linecap="butt"/>
<line x1="1172.9" y1="2546" x2="1172.9" y2="2571" stroke="#c9c9c9" stroke-width="5.2" stroke-linecap="butt"/>
<line x1="1172.9" y1="2546" x2="1172.9" y2="2571" stroke="#7a7a7a" stroke-width="2" stroke-linecap="butt"/>
<line x1="1164.4" y1="2546" x2="1181.4" y2="2546" stroke="#7a7a7a" stroke-width="2.6" stroke-linecap="butt"/>
<line x1="1164.4" y1="2571" x2="1181.4" y2="2571" stroke="#7a7a7a" stroke-width="2.6" stroke-linecap="butt"/>
<line x1="1358.1" y1="2460" x2="1358.1" y2="2502.4" stroke="#c9c9c9" stroke-width="5.2" stroke-linecap="butt"/>
<line x1="1358.1" y1="2460" x2="1358.1" y2="2502.4" stroke="#7a7a7a" stroke-width="2" stroke-linecap="butt"/>
<line x1="1349.6" y1="2460" x2="1366.6" y2="2460" stroke="#7a7a7a" stroke-width="2.6" stroke-linecap="butt"/>
<line x1="1349.6" y1="2502.4" x2="1366.6" y2="2502.4" stroke="#7a7a7a" stroke-width="2.6" stroke-linecap="butt"/>
<line x1="1543.2" y1="2388" x2="1543.2" y2="2460.5" stroke="#c9c9c9" stroke-width="5.2" stroke-linecap="butt"/>
<line x1="1543.2" y1="2388" x2="1543.2" y2="2460.5" stroke="#7a7a7a" stroke-width="2" stroke-linecap="butt"/>
<line x1="1534.7" y1="2388" x2="1551.7" y2="2388" stroke="#7a7a7a" stroke-width="2.6" stroke-linecap="butt"/>
<line x1="1534.7" y1="2460.5" x2="1551.7" y2="2460.5" stroke="#7a7a7a" stroke-width="2.6" stroke-linecap="butt"/>
<line x1="1787.9" y1="2285.9" x2="1787.9" y2="2423.2" stroke="#c9c9c9" stroke-width="5.2" stroke-linecap="butt"/>
<line x1="1787.9" y1="2285.9" x2="1787.9" y2="2423.2" stroke="#7a7a7a" stroke-width="2" stroke-linecap="butt"/>
<line x1="1779.4" y1="2285.9" x2="1796.4" y2="2285.9" stroke="#7a7a7a" stroke-width="2.6" stroke-linecap="butt"/>
<line x1="1779.4" y1="2423.2" x2="1796.4" y2="2423.2" stroke="#7a7a7a" stroke-width="2.6" stroke-linecap="butt"/>
<line x1="1973.1" y1="2224.3" x2="1973.1" y2="2355.8" stroke="#c9c9c9" stroke-width="5.2" stroke-linecap="butt"/>
<line x1="1973.1" y1="2224.3" x2="1973.1" y2="2355.8" stroke="#7a7a7a" stroke-width="2" stroke-linecap="butt"/>
<line x1="1964.6" y1="2224.3" x2="1981.6" y2="2224.3" stroke="#7a7a7a" stroke-width="2.6" stroke-linecap="butt"/>
<line x1="1964.6" y1="2355.8" x2="1981.6" y2="2355.8" stroke="#7a7a7a" stroke-width="2.6" stroke-linecap="butt"/>
<line x1="2081.4" y1="2206.3" x2="2081.4" y2="2316.7" stroke="#c9c9c9" stroke-width="5.2" stroke-linecap="butt"/>
<line x1="2081.4" y1="2206.3" x2="2081.4" y2="2316.7" stroke="#7a7a7a" stroke-width="2" stroke-linecap="butt"/>
<line x1="2072.9" y1="2206.3" x2="2089.9" y2="2206.3" stroke="#7a7a7a" stroke-width="2.6" stroke-linecap="butt"/>
<line x1="2072.9" y1="2316.7" x2="2089.9" y2="2316.7" stroke="#7a7a7a" stroke-width="2.6" stroke-linecap="butt"/>
<line x1="1358.1" y1="2453" x2="1358.1" y2="2473" stroke="#c9c9c9" stroke-width="5.2" stroke-linecap="butt"/>
<line x1="1358.1" y1="2453" x2="1358.1" y2="2473" stroke="#5e5e5e" stroke-width="2" stroke-linecap="butt"/>
<line x1="1349.6" y1="2453" x2="1366.6" y2="2453" stroke="#5e5e5e" stroke-width="2.6" stroke-linecap="butt"/>
<line x1="1349.6" y1="2473" x2="1366.6" y2="2473" stroke="#5e5e5e" stroke-width="2.6" stroke-linecap="butt"/>
<line x1="1543.2" y1="2332.5" x2="1543.2" y2="2421" stroke="#c9c9c9" stroke-width="5.2" stroke-linecap="butt"/>
<line x1="1543.2" y1="2332.5" x2="1543.2" y2="2421" stroke="#5e5e5e" stroke-width="2" stroke-linecap="butt"/>
<line x1="1534.7" y1="2332.5" x2="1551.7" y2="2332.5" stroke="#5e5e5e" stroke-width="2.6" stroke-linecap="butt"/>
<line x1="1534.7" y1="2421" x2="1551.7" y2="2421" stroke="#5e5e5e" stroke-width="2.6" stroke-linecap="butt"/>
<line x1="1787.9" y1="2208.9" x2="1787.9" y2="2287.8" stroke="#c9c9c9" stroke-width="5.2" stroke-linecap="butt"/>
<line x1="1787.9" y1="2208.9" x2="1787.9" y2="2287.8" stroke="#5e5e5e" stroke-width="2" stroke-linecap="butt"/>
<line x1="1779.4" y1="2208.9" x2="1796.4" y2="2208.9" stroke="#5e5e5e" stroke-width="2.6" stroke-linecap="butt"/>
<line x1="1779.4" y1="2287.8" x2="1796.4" y2="2287.8" stroke="#5e5e5e" stroke-width="2.6" stroke-linecap="butt"/>
<line x1="1973.1" y1="2115.8" x2="1973.1" y2="2153.7" stroke="#c9c9c9" stroke-width="5.2" stroke-linecap="butt"/>
<line x1="1973.1" y1="2115.8" x2="1973.1" y2="2153.7" stroke="#5e5e5e" stroke-width="2" stroke-linecap="butt"/>
<line x1="1964.6" y1="2115.8" x2="1981.6" y2="2115.8" stroke="#5e5e5e" stroke-width="2.6" stroke-linecap="butt"/>
<line x1="1964.6" y1="2153.7" x2="1981.6" y2="2153.7" stroke="#5e5e5e" stroke-width="2.6" stroke-linecap="butt"/>
<line x1="2098.6" y1="2001" x2="2098.6" y2="2077.3" stroke="#c9c9c9" stroke-width="5.2" stroke-linecap="butt"/>
<line x1="2098.6" y1="2001" x2="2098.6" y2="2077.3" stroke="#5e5e5e" stroke-width="2" stroke-linecap="butt"/>
<line x1="2090.1" y1="2001" x2="2107.1" y2="2001" stroke="#5e5e5e" stroke-width="2.6" stroke-linecap="butt"/>
<line x1="2090.1" y1="2077.3" x2="2107.1" y2="2077.3" stroke="#5e5e5e" stroke-width="2.6" stroke-linecap="butt"/>
<line x1="2158.2" y1="1972" x2="2158.2" y2="2024.6" stroke="#c9c9c9" stroke-width="5.2" stroke-linecap="butt"/>
<line x1="2158.2" y1="1972" x2="2158.2" y2="2024.6" stroke="#5e5e5e" stroke-width="2" stroke-linecap="butt"/>
<line x1="2149.7" y1="1972" x2="2166.7" y2="1972" stroke="#5e5e5e" stroke-width="2.6" stroke-linecap="butt"/>
<line x1="2149.7" y1="2024.6" x2="2166.7" y2="2024.6" stroke="#5e5e5e" stroke-width="2.6" stroke-linecap="butt"/>
<line x1="2266.5" y1="1900.8" x2="2266.5" y2="1976.5" stroke="#c9c9c9" stroke-width="5.2" stroke-linecap="butt"/>
<line x1="2266.5" y1="1900.8" x2="2266.5" y2="1976.5" stroke="#5e5e5e" stroke-width="2" stroke-linecap="butt"/>
<line x1="2258" y1="1900.8" x2="2275" y2="1900.8" stroke="#5e5e5e" stroke-width="2.6" stroke-linecap="butt"/>
<line x1="2258" y1="1976.5" x2="2275" y2="1976.5" stroke="#5e5e5e" stroke-width="2.6" stroke-linecap="butt"/>
<line x1="2343.3" y1="1856.5" x2="2343.3" y2="1931.6" stroke="#c9c9c9" stroke-width="5.2" stroke-linecap="butt"/>
<line x1="2343.3" y1="1856.5" x2="2343.3" y2="1931.6" stroke="#5e5e5e" stroke-width="2" stroke-linecap="butt"/>
<line x1="2334.8" y1="1856.5" x2="2351.8" y2="1856.5" stroke="#5e5e5e" stroke-width="2.6" stroke-linecap="butt"/>
<line x1="2334.8" y1="1931.6" x2="2351.8" y2="1931.6" stroke="#5e5e5e" stroke-width="2.6" stroke-linecap="butt"/>
<line x1="743.1" y1="2689" x2="2081.4" y2="2257.2" stroke="#ff0000" stroke-width="4.3" stroke-linecap="butt"/>
<circle cx="743.1" cy="2687.5" r="11" fill="#ff0000"/>
<circle cx="1036.5" cy="2598.7" r="11" fill="#ff0000"/>
<circle cx="1172.9" cy="2558" r="11" fill="#ff0000"/>
<circle cx="1358.1" cy="2480.7" r="11" fill="#ff0000"/>
<circle cx="1543.2" cy="2425" r="11" fill="#ff0000"/>
<circle cx="1787.9" cy="2353.3" r="11" fill="#ff0000"/>
<circle cx="1973.1" cy="2291" r="11" fill="#ff0000"/>
<circle cx="2081.4" cy="2262" r="11" fill="#ff0000"/>
<line x1="1358.1" y1="2480.7" x2="2343.3" y2="1898.9" stroke="#5b9bd5" stroke-width="4.3" stroke-linecap="butt"/>
<rect x="1348.1" y="2453" width="20" height="20" fill="#5b9bd5"/>
<rect x="1533.2" y="2366.5" width="20" height="20" fill="#5b9bd5"/>
<rect x="1777.9" y="2238.7" width="20" height="20" fill="#5b9bd5"/>
<rect x="1963.1" y="2124.4" width="20" height="20" fill="#5b9bd5"/>
<rect x="2088.6" y="2028.8" width="20" height="20" fill="#5b9bd5"/>
<rect x="2148.2" y="1989.6" width="20" height="20" fill="#5b9bd5"/>
<rect x="2256.5" y="1929.3" width="20" height="20" fill="#5b9bd5"/>
<rect x="2333.3" y="1884.4" width="20" height="20" fill="#5b9bd5"/>
<line x1="1348.1" y1="2453.2" x2="1368.1" y2="2453.2" stroke="#1c2f4a" stroke-width="3" stroke-linecap="butt"/>
<rect x="1513.3" y="1950" width="479.4" height="140" fill="#fff" stroke="#5b9bd5" stroke-width="4.2"/>
<text x="1751.5" y="2004" font-size="45" font-family='"Liberation Sans", Arial, Helvetica, sans-serif' font-weight="normal" text-anchor="middle" fill="#111">y = -0.2308x - 0.1808</text>
<text x="1762.5" y="2058.7" font-size="44" font-family='"Liberation Serif", "Times New Roman", Times, serif' font-weight="normal" text-anchor="middle" fill="#222">R² = 0.9956</text>
<rect x="1478.2" y="2537.5" width="549.8" height="137.8" fill="#fff" stroke="#ff0000" stroke-width="4"/>
<text x="1750.5" y="2591.5" font-size="45" font-family='"Liberation Sans", Arial, Helvetica, sans-serif' font-weight="normal" text-anchor="middle" fill="#111">y = -0.1261x - 0.2477</text>
<text x="1745.7" y="2655.6" font-size="44" font-family='"Liberation Serif", "Times New Roman", Times, serif' font-weight="normal" text-anchor="middle" fill="#222">R² = 0.9985</text>
</svg></body></html>
